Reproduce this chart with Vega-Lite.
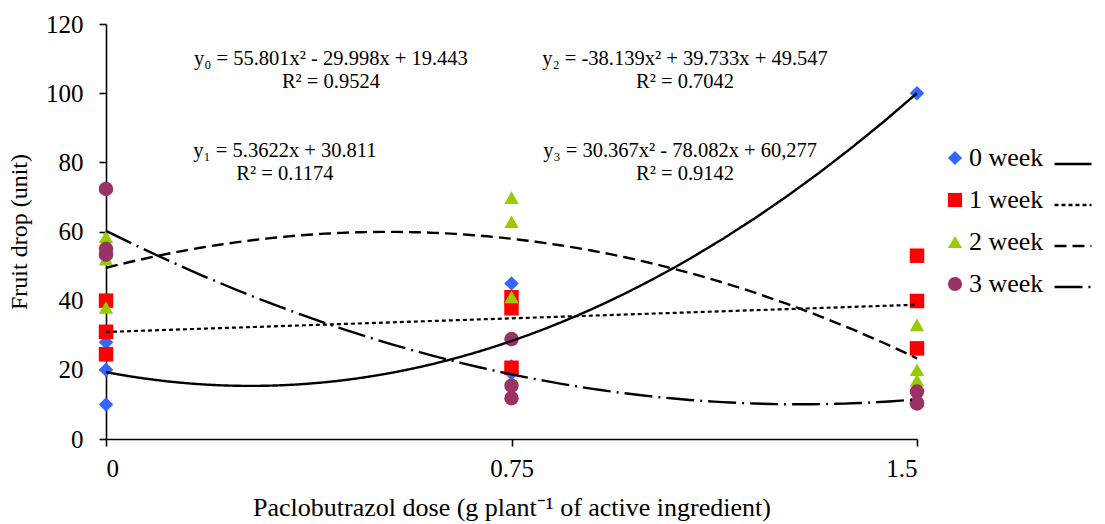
{
  "$schema": "https://vega.github.io/schema/vega-lite/v6.json",
  "width": 811,
  "height": 415,
  "autosize": {"type": "none"},
  "padding": {"left": 106, "top": 24, "right": 188, "bottom": 85},
  "background": "white",
  "config": {
    "view": {"stroke": null},
    "font": "Liberation Serif",
    "axis": {
      "grid": false,
      "domainColor": "black",
      "domainWidth": 1.6,
      "tickColor": "black",
      "tickWidth": 1.6,
      "tickSize": 7,
      "labelColor": "black",
      "labelFont": "Liberation Serif",
      "labelFontSize": 25,
      "titleFont": "Liberation Serif",
      "titleFontSize": 24,
      "titleFontWeight": "normal",
      "titleColor": "black"
    }
  },
  "datasets": {
    "pts": [
      {"x": 0, "y": 10, "series": "0 week", "fit": "y0"},
      {"x": 0, "y": 20, "series": "0 week", "fit": "y0"},
      {"x": 0, "y": 28, "series": "0 week", "fit": "y0"},
      {"x": 0.75, "y": 45, "series": "0 week", "fit": "y0"},
      {"x": 0.75, "y": 19, "series": "0 week", "fit": "y0"},
      {"x": 0.75, "y": 21, "series": "0 week", "fit": "y0"},
      {"x": 1.5, "y": 100, "series": "0 week", "fit": "y0"},
      {"x": 0, "y": 40, "series": "1 week", "fit": "y1"},
      {"x": 0, "y": 31, "series": "1 week", "fit": "y1"},
      {"x": 0, "y": 24.5, "series": "1 week", "fit": "y1"},
      {"x": 0.75, "y": 41, "series": "1 week", "fit": "y1"},
      {"x": 0.75, "y": 37.8, "series": "1 week", "fit": "y1"},
      {"x": 0.75, "y": 20.6, "series": "1 week", "fit": "y1"},
      {"x": 1.5, "y": 53, "series": "1 week", "fit": "y1"},
      {"x": 1.5, "y": 39.9, "series": "1 week", "fit": "y1"},
      {"x": 1.5, "y": 26.2, "series": "1 week", "fit": "y1"},
      {"x": 0, "y": 58.5, "series": "2 week", "fit": "y2"},
      {"x": 0, "y": 52, "series": "2 week", "fit": "y2"},
      {"x": 0, "y": 38, "series": "2 week", "fit": "y2"},
      {"x": 0.75, "y": 69.8, "series": "2 week", "fit": "y2"},
      {"x": 0.75, "y": 62.8, "series": "2 week", "fit": "y2"},
      {"x": 0.75, "y": 41.1, "series": "2 week", "fit": "y2"},
      {"x": 1.5, "y": 33, "series": "2 week", "fit": "y2"},
      {"x": 1.5, "y": 20, "series": "2 week", "fit": "y2"},
      {"x": 1.5, "y": 17, "series": "2 week", "fit": "y2"},
      {"x": 0, "y": 72.3, "series": "3 week", "fit": "y3"},
      {"x": 0, "y": 55, "series": "3 week", "fit": "y3"},
      {"x": 0, "y": 53.3, "series": "3 week", "fit": "y3"},
      {"x": 0.75, "y": 28.9, "series": "3 week", "fit": "y3"},
      {"x": 0.75, "y": 15.4, "series": "3 week", "fit": "y3"},
      {"x": 0.75, "y": 11.8, "series": "3 week", "fit": "y3"},
      {"x": 1.5, "y": 13.7, "series": "3 week", "fit": "y3"},
      {"x": 1.5, "y": 10.3, "series": "3 week", "fit": "y3"},
      {"x": 1.5, "y": 10.4, "series": "3 week", "fit": "y3"}
    ],
    "eqs": [
      {"x": 0.416, "y": 108.1, "label": "y₀ = 55.801x² - 29.998x + 19.443"},
      {"x": 0.416, "y": 101.6, "label": "R² = 0.9524"},
      {"x": 0.331, "y": 81.4, "label": "y₁ = 5.3622x + 30.811"},
      {"x": 0.331, "y": 74.9, "label": "R² = 0.1174"},
      {"x": 1.071, "y": 108.1, "label": "y₂ = -38.139x² + 39.733x + 49.547"},
      {"x": 1.071, "y": 101.6, "label": "R² = 0.7042"},
      {"x": 1.062, "y": 81.4, "label": "y₃ = 30.367x² - 78.082x + 60,277"},
      {"x": 1.071, "y": 74.9, "label": "R² = 0.9142"}
    ]
  },
  "encoding": {
    "x": {
      "field": "x", "type": "quantitative",
      "scale": {"domain": [0, 1.5], "nice": false, "zero": false},
      "axis": {"values": [0, 0.75, 1.5], "format": ".2~f", "title": "Paclobutrazol dose (g plant⁻¹ of active ingredient)", "titleFontSize": 26, "labelPadding": 10, "titlePadding": 13}
    },
    "y": {
      "field": "y", "type": "quantitative",
      "scale": {"domain": [0, 120], "nice": false},
      "axis": {"values": [0, 20, 40, 60, 80, 100, 120], "title": "Fruit drop (unit)", "labelPadding": 16, "titlePadding": 14}
    }
  },
  "layer": [
    {
      "data": {"name": "pts"},
      "mark": {"type": "point", "filled": true, "size": 210, "opacity": 1},
      "encoding": {
        "color": {
          "field": "series", "type": "nominal",
          "scale": {"domain": ["0 week", "1 week", "2 week", "3 week"], "range": ["#3366FF", "#FF0000", "#99CC00", "#993366"]},
          "legend": {"title": null, "orient": "none", "legendX": 836, "legendY": 121, "padding": 0, "rowPadding": 16, "labelFont": "Liberation Serif", "labelFontSize": 26, "labelColor": "black", "symbolSize": 200, "labelOffset": 1, "symbolStrokeWidth": 0}
        },
        "shape": {
          "field": "series", "type": "nominal",
          "scale": {"domain": ["0 week", "1 week", "2 week", "3 week"], "range": ["diamond", "square", "triangle-up", "circle"]},
          "legend": {"title": null, "orient": "none", "legendX": 836, "legendY": 121, "padding": 0, "rowPadding": 16, "labelFont": "Liberation Serif", "labelFontSize": 26, "labelColor": "black", "symbolSize": 200, "labelOffset": 1, "symbolStrokeWidth": 0}
        }
      }
    },
    {
      "data": {"name": "pts"},
      "transform": [
        {"filter": "datum.fit != 'y1'"},
        {"regression": "y", "on": "x", "groupby": ["fit"], "method": "poly", "order": 2, "extent": [0, 1.5]}
      ],
      "mark": {"type": "line", "color": "black", "strokeWidth": 2.4},
      "encoding": {
        "strokeDash": {
          "field": "fit", "type": "nominal",
          "scale": {"domain": ["y0", "y1", "y2", "y3"], "range": [[1, 0], [4, 3], [12, 6], [28, 6, 2, 6]]},
          "legend": {"title": null, "orient": "none", "legendX": 947, "legendY": 120, "padding": 0, "rowPadding": 8, "labelExpr": "''", "symbolType": "stroke", "symbolSize": 1369, "symbolStrokeWidth": 2.5, "symbolStrokeColor": "black", "labelFontSize": 26}
        }
      }
    },
    {
      "data": {"name": "pts"},
      "transform": [
        {"filter": "datum.fit == 'y1'"},
        {"regression": "y", "on": "x", "groupby": ["fit"], "method": "linear", "extent": [0, 1.5]}
      ],
      "mark": {"type": "line", "color": "black", "strokeWidth": 2.2},
      "encoding": {
        "strokeDash": {"field": "fit", "type": "nominal"}
      }
    },
    {
      "data": {"name": "eqs"},
      "mark": {"type": "text", "font": "Liberation Serif", "fontSize": 20.5, "align": "center", "baseline": "alphabetic", "color": "black"},
      "encoding": {
        "text": {"field": "label"}
      }
    }
  ]
}
